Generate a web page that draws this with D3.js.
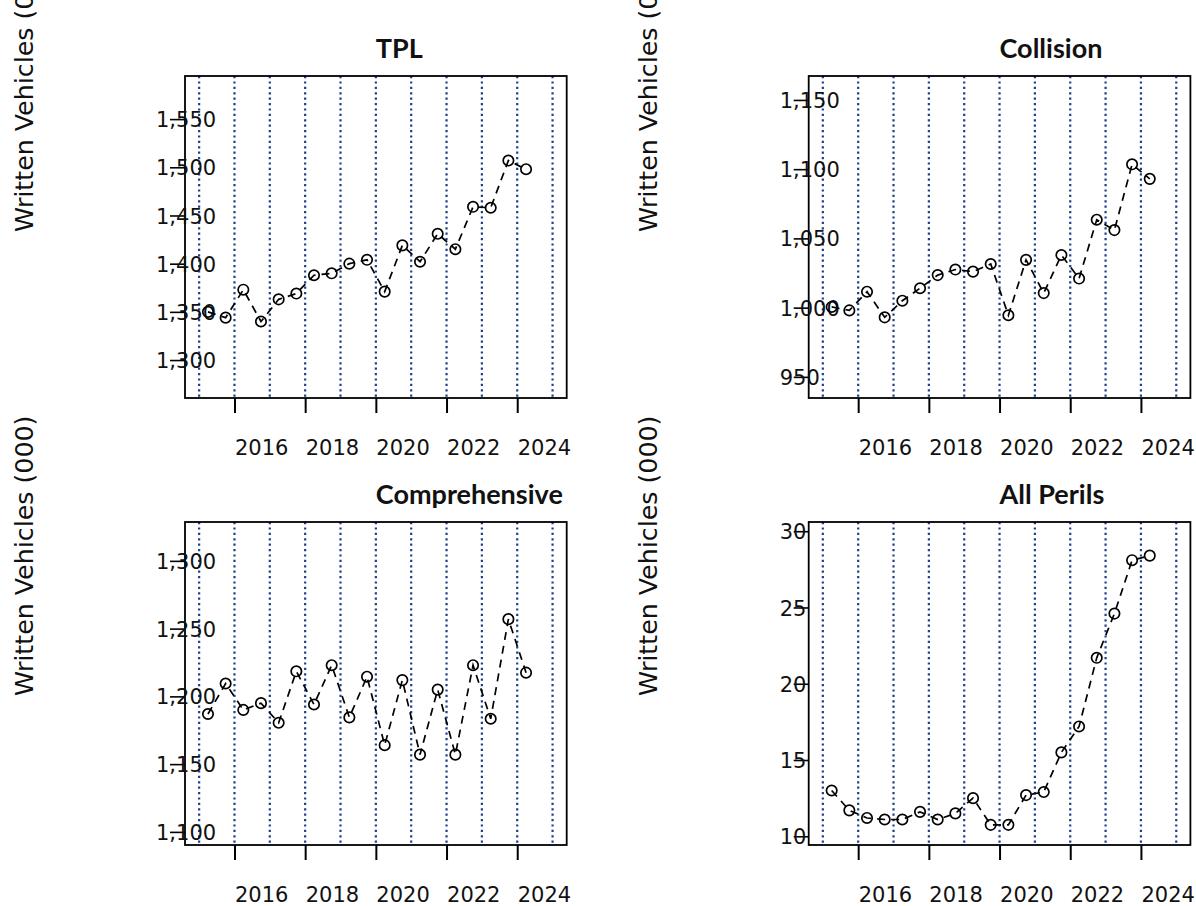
<!DOCTYPE html>
<html>
<head>
<meta charset="utf-8">
<script src="https://cdn.jsdelivr.net/npm/d3@7"></script>
<style>
  body { margin: 0; background: #fff; }
  svg { display: block; }
</style>
</head>
<body>
<svg id="chart" width="1196" height="906"></svg>
<script>
// Half-year periods (mid-points of H1 / H2)
const periods = [2015.25, 2015.75, 2016.25, 2016.75, 2017.25, 2017.75, 2018.25, 2018.75,
                 2019.25, 2019.75, 2020.25, 2020.75, 2021.25, 2021.75, 2022.25, 2022.75,
                 2023.25, 2023.75, 2024.25];

// Written vehicles (000) by coverage
const tplValues = [1350, 1344, 1373, 1340, 1363, 1369, 1388, 1390, 1400, 1404,
                   1371, 1419, 1402, 1431, 1415, 1459, 1458, 1507, 1498];
const collisionValues = [1000.5, 998, 1011.5, 993, 1005, 1014, 1023.5, 1027.5, 1026, 1031.5,
                         994.5, 1034.5, 1010.5, 1038, 1021, 1063.5, 1056, 1103.5, 1093];
const comprehensiveValues = [1187, 1209.5, 1190, 1195, 1180.5, 1218.5, 1194, 1223, 1184.5, 1214.5,
                             1164, 1212, 1157, 1205, 1157, 1223, 1183.5, 1257, 1217.5];
const allPerilsValues = [13.0, 11.7, 11.2, 11.1, 11.1, 11.6, 11.1, 11.5, 12.5, 10.75,
                         10.75, 12.7, 12.9, 15.5, 17.2, 21.7, 24.6, 28.1, 28.4];

// Axis ticks
const yearLines = [2015, 2016, 2017, 2018, 2019, 2020, 2021, 2022, 2023, 2024, 2025];
const yearTicks = [2016, 2018, 2020, 2022, 2024];
const tplTicks = [1300, 1350, 1400, 1450, 1500, 1550];
const collisionTicks = [950, 1000, 1050, 1100, 1150];
const comprehensiveTicks = [1100, 1150, 1200, 1250, 1300];
const allPerilsTicks = [10, 15, 20, 25, 30];

const yTitle = "Written Vehicles (000)";

const panels = [
  { title: "TPL", values: tplValues, ticks: tplTicks,
    box: { x0: 185, x1: 566.7, y0: 76, y1: 398 }, labelY: 232 },
  { title: "Collision", values: collisionValues, ticks: collisionTicks,
    box: { x0: 808.7, x1: 1190.4, y0: 76, y1: 398 }, labelY: 232 },
  { title: "Comprehensive", values: comprehensiveValues, ticks: comprehensiveTicks,
    box: { x0: 185, x1: 566.7, y0: 522, y1: 845 }, labelY: 696 },
  { title: "All Perils", values: allPerilsValues, ticks: allPerilsTicks,
    box: { x0: 808.7, x1: 1190.4, y0: 522, y1: 845 }, labelY: 696 }
];

const svg = d3.select("#chart");
const textFont = "'DejaVu Sans', sans-serif";
const titleFont = "Lato, 'Open Sans', sans-serif";
const fmt = d3.format(",");

panels.forEach(p => {
  const { x0, x1, y0, y1 } = p.box;
  const g = svg.append("g");

  const x = d3.scaleLinear().domain([2014.6, 2025.4]).range([x0, x1]);

  // y range: 5% below min / above max, then the usual 4% axis padding
  const lo = 0.95 * d3.min(p.values), hi = 1.05 * d3.max(p.values);
  const pad = 0.04 * (hi - lo);
  const y = d3.scaleLinear().domain([lo - pad, hi + pad]).range([y1, y0]);

  // yearly reference lines
  g.append("g").selectAll("line").data(yearLines).join("line")
    .attr("x1", d => x(d)).attr("x2", d => x(d))
    .attr("y1", y0).attr("y2", y1)
    .attr("stroke", "#1c3f94").attr("stroke-width", 2.2)
    .attr("stroke-dasharray", "2.2,3.2");

  // frame
  g.append("rect")
    .attr("x", x0).attr("y", y0).attr("width", x1 - x0).attr("height", y1 - y0)
    .attr("fill", "none").attr("stroke", "#000").attr("stroke-width", 1.8);

  // y axis
  const ya = g.append("g").attr("transform", `translate(${x0},0)`)
    .call(d3.axisLeft(y).tickValues(p.ticks).tickSize(15).tickFormat(fmt));
  ya.select(".domain").remove();
  ya.selectAll(".tick line").attr("stroke", "#000").attr("stroke-width", 1.6);
  ya.selectAll(".tick text")
    .attr("x", -29).attr("dy", "0.36em")
    .attr("text-anchor", "start")
    .attr("fill", "#111")
    .style("font-family", textFont).style("font-size", "21px");

  // x axis
  const xa = g.append("g").attr("transform", `translate(0,${y1})`)
    .call(d3.axisBottom(x).tickValues(yearTicks).tickSize(15).tickFormat(d3.format("d")));
  xa.select(".domain").remove();
  xa.selectAll(".tick line").attr("stroke", "#000").attr("stroke-width", 2);
  xa.selectAll(".tick text")
    .attr("x", 0).attr("y", 56.7).attr("dy", 0)
    .attr("text-anchor", "start")
    .attr("fill", "#111")
    .style("font-family", textFont).style("font-size", "21px");

  // series
  const pts = periods.map((t, i) => [t, p.values[i]]);
  g.append("path")
    .datum(pts)
    .attr("d", d3.line().x(d => x(d[0])).y(d => y(d[1])))
    .attr("fill", "none").attr("stroke", "#000").attr("stroke-width", 1.7)
    .attr("stroke-dasharray", "8,6");
  g.append("g").selectAll("circle").data(pts).join("circle")
    .attr("cx", d => x(d[0])).attr("cy", d => y(d[1])).attr("r", 5.2)
    .attr("fill", "none").attr("stroke", "#000").attr("stroke-width", 1.7);

  // title
  g.append("text")
    .attr("x", (x0 + x1) / 2).attr("y", y0 - 18.5)
    .attr("text-anchor", "start")
    .style("font-family", titleFont).style("font-weight", "bold").style("font-size", "27px")
    .attr("fill", "#111")
    .text(p.title);

  // y axis title
  g.append("text")
    .attr("transform", `translate(${x0 - 152},${p.labelY}) rotate(-90)`)
    .attr("text-anchor", "start")
    .style("font-family", textFont).style("font-size", "25.3px")
    .attr("fill", "#111")
    .text(yTitle);
});
</script>
</body>
</html>
